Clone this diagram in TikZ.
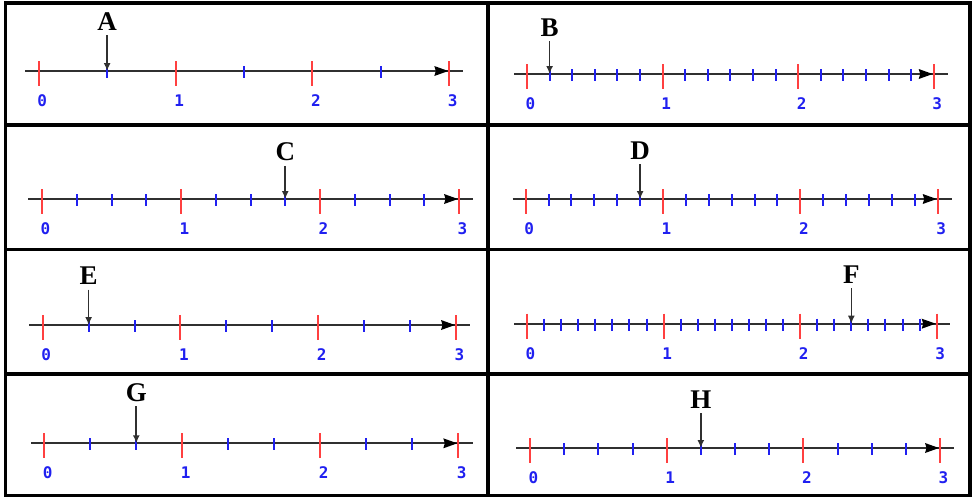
\documentclass[tikz,border=0pt]{standalone}
\usepackage{fontspec}
\newfontfamily\letterfont{Liberation Serif}
\newfontfamily\digitfont{DejaVu Sans Mono}
\usetikzlibrary{arrows.meta}
\definecolor{tickred}{HTML}{FF4040}
\definecolor{tickblue}{HTML}{2020F0}
\definecolor{axisgray}{HTML}{303030}
\tikzset{
  frame/.style={line width=3.8pt, draw=black},
  axisline/.style={line width=2.2pt, draw=axisgray},
  majortick/.style={line width=2pt, draw=tickred},
  minortick/.style={line width=2pt, draw=tickblue},
  numlabel/.style={text=tickblue, font=\digitfont\bfseries\fontsize{16}{16}\selectfont, inner sep=0pt},
  letterlabel/.style={font=\letterfont\bfseries\fontsize{27}{27}\selectfont, inner sep=0pt},
  pointer/.style={line width=1.7pt, draw=axisgray, -{Latex[length=8pt,width=7pt]}, shorten <=4.5pt},
  axishead/.style={fill=black},
}
\begin{document}
\begin{tikzpicture}[x=1pt,y=-1pt]
\useasboundingbox (0,0) rectangle (975,499);
% frame
\draw[frame] (5.5,3) rectangle (970,495.5);
\draw[frame] (488,3) -- (488,495.5);
\draw[frame] (5.5,125) -- (970,125);
\draw[frame] (5.5,249.5) -- (970,249.5);
\draw[frame] (5.5,374) -- (970,374);
% number lines: name/xstart/xend/axisy/x0/x3/subdiv/mark/lettery
\foreach \nm/\xa/\xb/\ay/\xz/\xt/\n/\mk/\ly in {
  A/25/463/71/38.7/449.3/2/0.5/21.7,
  B/514/948/74/527/933.7/6/0.16667/27.5,
  C/28/473/199/42/459/4/1.75/152,
  D/512.7/951.7/199/525.7/937.7/6/0.83333/150.5,
  E/29/470/325/42.7/456/3/0.33333/276,
  F/514/950/323.7/527/936.7/8/2.375/274.7,
  G/31/472.7/443.3/44.3/458.3/3/0.66667/392.5,
  H/516/954/448/530/940/4/1.25/399.7}{
  \pgfmathsetmacro\unitlen{(\xt-\xz)/3}
  \pgfmathtruncatemacro\N{3*\n}
  \coordinate (s\nm) at (\xa,\ay);
  \coordinate (e\nm) at (\xb,\ay);
  \draw[axisline] (s\nm) -- (e\nm);
  \foreach \k in {0,...,\N}{
    \pgfmathsetmacro\tx{\xz+\k*\unitlen/\n}
    \pgfmathtruncatemacro\r{mod(\k,\n)}
    \ifnum\r=0
      \draw[majortick] (\tx,\ay-10) -- (\tx,\ay+15);
    \else
      \draw[minortick] (\tx,\ay-5) -- (\tx,\ay+7);
    \fi
  }
  \coordinate (tip\nm) at (\xt-1,\ay);
  \fill[axishead] (tip\nm) -- ++(-14,-5) -- ++(1.5,5) -- ++(-1.5,5) -- cycle;
  \foreach \d in {0,1,2,3}{
    \node[numlabel] (num\nm\d) at (\xz+\d*\unitlen+3.5,\ay+29.5) {\d};
  }
  \pgfmathsetmacro\mx{\xz+\mk*\unitlen}
  \node[letterlabel] (let\nm) at (\mx,\ly) {\nm};
  \coordinate (pt\nm) at (\mx,\ay);
  \draw[pointer] (let\nm.south) -- (pt\nm);
}
\end{tikzpicture}
\end{document}
